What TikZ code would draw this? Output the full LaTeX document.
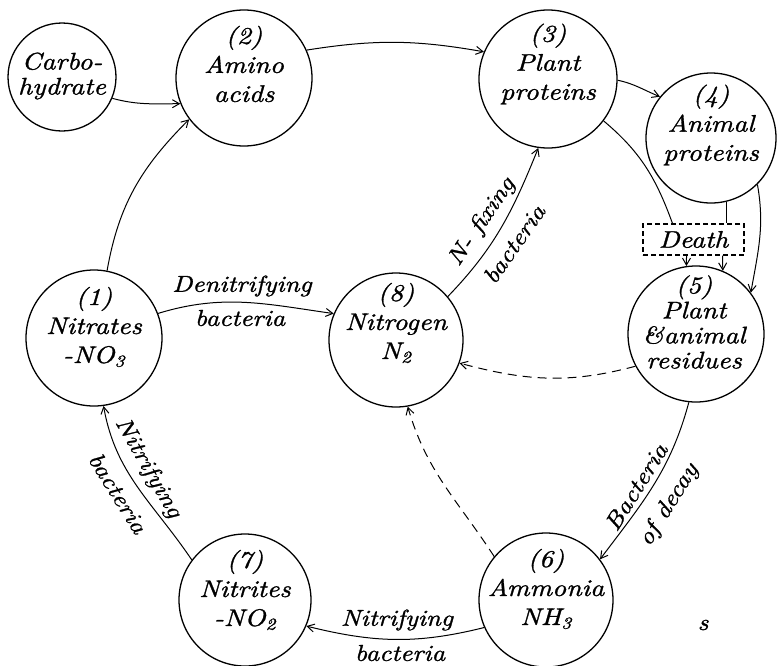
\documentclass[tikz,border=0pt]{standalone}
\usepackage{fontspec}
\setmainfont{lmroman10-regular.otf}[ItalicFont=lmroman10-italic.otf, FakeStretch=1.15, ItalicFeatures={FakeBold=1.2}]
\usetikzlibrary{arrows.meta,calc}
\tikzset{
  bub/.style={circle, draw, line width=1.3pt, inner sep=0pt},
  txt/.style={align=center, font=\itshape\fontsize{24}{29}\selectfont, inner sep=0pt},
  txtb/.style={align=center, font=\itshape\fontsize{24}{25}\selectfont, inner sep=0pt},
  lbl/.style={font=\itshape\fontsize{23}{26}\selectfont, inner sep=0pt},
  conn/.style={line width=1pt, -{Straight Barb[length=7pt,width=8pt]}},
  plain/.style={line width=1pt},
  dsh/.style={conn, dash pattern=on 9pt off 6pt},
  deathbox/.style={draw, line width=1.1pt, dash pattern=on 5pt off 3pt, minimum width=101pt, minimum height=31pt, inner sep=0pt, font=\itshape\fontsize{24}{26}\selectfont}
}
\begin{document}
\begin{tikzpicture}[x=1pt,y=1pt]
\useasboundingbox (0,0) rectangle (778,-665);
% circles
\node[bub, minimum size=108pt] (carb) at (62,-77) {};
\node[bub, minimum size=136pt] (n2) at (244,-78) {};
\node[bub, minimum size=138pt] (n3) at (548,-79) {};
\node[bub, minimum size=130pt] (n4) at (711,-138) {};
\node[bub, minimum size=136pt] (n5) at (696,-334) {};
\node[bub, minimum size=134pt] (n8) at (396,-340) {};
\node[bub, minimum size=136pt] (n1) at (94,-338) {};
\node[bub, minimum size=132pt] (n7) at (245,-600) {};
\node[bub, minimum size=134pt] (n6) at (546,-600) {};
\node[deathbox] (death) at (693.5,-239.5) {Death};
% texts in circles
\node[txtb] (tc) at (62,-76) {Carbo-\\hydrate};
\node[txt] (t2) at (244,-64) {(2)\\Amino\\acids};
\node[txt] (t3) at (548,-64) {(3)\\Plant\\proteins};
\node[txt] (t4) at (711,-125) {(4)\\Animal\\proteins};
\node[txtb] (t5) at (694,-322) {(5)\\Plant\\\&animal\\residues};
\node[txt] (t8) at (396,-323) {(8)\\Nitrogen\\N\textsubscript{2}};
\node[txt] (t1) at (94,-327) {(1)\\Nitrates\\-NO\textsubscript{3}};
\node[txt] (t7) at (245,-590) {(7)\\Nitrites\\-NO\textsubscript{2}};
\node[txt] (t6) at (546,-589) {(6)\\Ammonia\\NH\textsubscript{3}};
\node[lbl] (ss) at (703,-625) {s};
% connectors
\draw[conn] (carb.-23) to[out=-15,in=180] (n2.202);
\draw[conn] (n1.79) to[out=80,in=225] (n2.217);
\draw[conn] (n2.24) to[out=9,in=170] (n3.157);
\draw[conn] (n3.-1) to[out=-12,in=158] (n4.141);
\draw[plain] (n3.-37) to[out=-40,in=110] ([xshift=-21pt]death.north);
\draw[plain] (n4.-76) -- (n4.-76 |- death.north);
\draw[conn] (n4.-45) to[out=-80,in=80] (n5.37);
\draw[conn] ([xshift=-7pt]death.south) -- (n5.98);
\draw[conn] ([xshift=29pt]death.south) -- (n5.67);
\draw[dsh] (n5.208) to[out=195,in=-15] (n8.-20);
\draw[dsh] (n6.140) to[out=123,in=-74] (n8.-80);
\draw[conn] (n8.40) to[out=46,in=-112] (n3.262);
\draw[conn] (n1.21.5) to[out=17,in=172] (n8.157);
\draw[conn] (n5.264) to[out=-105,in=53] (n6.37.5);
\draw[conn] (n6.204) to[out=194,in=-14] (n7.-23);
\draw[conn] (n7.143) to[out=124,in=-80] (n1.-82.6);
% connector labels
\node[lbl] (ld1) at (242,-286) {Denitrifying};
\node[lbl] (ld2) at (240,-318) {bacteria};
\node[lbl, rotate=56] (lf1) at (482,-222) {N- fixing};
\node[lbl, rotate=55] (lf2) at (514,-244) {bacteria};
\node[lbl, rotate=58] (lb1) at (636,-487) {Bacteria};
\node[lbl, rotate=58] (lb2) at (669,-505) {of decay};
\node[lbl] (ln1) at (397,-620) {Nitrifying};
\node[lbl] (ln2) at (400,-653) {bacteria};
\node[lbl, rotate=-60] (lm1) at (148,-468) {Nitrifying};
\node[lbl, rotate=-58] (lm2) at (118,-493) {bacteria};
\end{tikzpicture}
\end{document}
